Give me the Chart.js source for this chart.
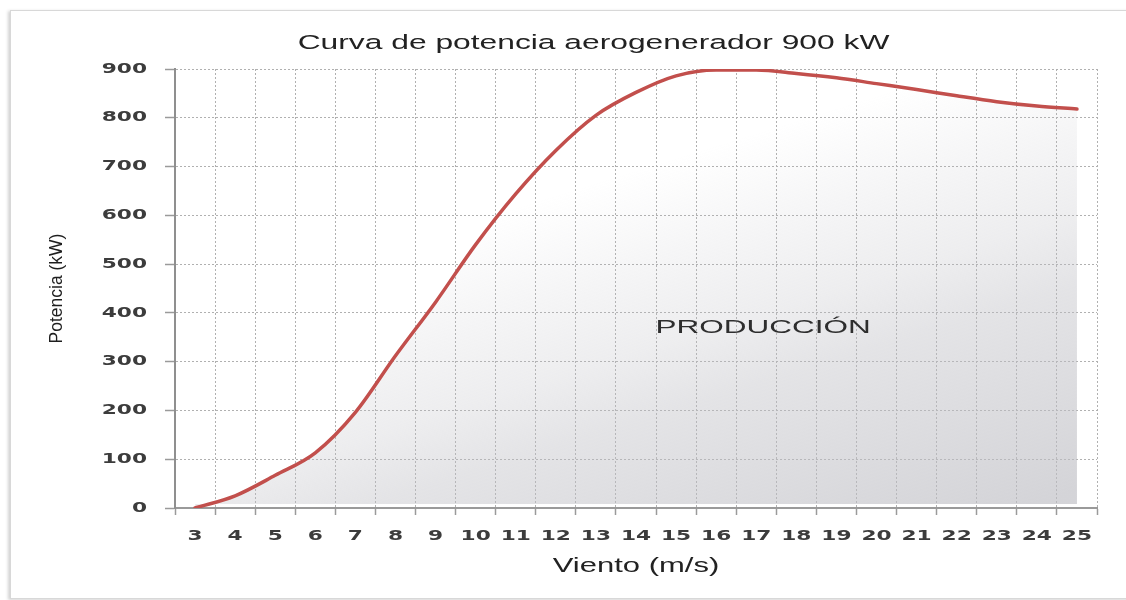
<!DOCTYPE html>
<html lang="es">
<head>
<meta charset="utf-8">
<title>Curva de potencia aerogenerador 900 kW</title>
<script src="https://cdn.jsdelivr.net/npm/chart.js@4.4.1/dist/chart.umd.min.js"></script>
<style>
  html, body { margin: 0; padding: 0; background: #ffffff; }
  #wrap { position: relative; width: 1126px; height: 600px; overflow: hidden; background: #ffffff; }
  #frame { position: absolute; left: 10px; top: 10px; width: 1140px; height: 587px;
           border: 1px solid #d8d8d8; box-shadow: -2px 1px 3px rgba(0,0,0,0.18); background: #ffffff; }
  #c { position: absolute; left: 0; top: 0; }
</style>
</head>
<body>
<div id="wrap">
  <div id="frame"></div>
  <canvas id="c" width="1126" height="600"></canvas>
</div>
<script>
// ---- data ----
const chartTitle = 'Curva de potencia aerogenerador 900 kW';
const xAxisTitle = 'Viento (m/s)';
const yAxisTitle = 'Potencia (kW)';
const areaLabel = 'PRODUCCIÓN';
const windSpeeds = ['3','4','5','6','7','8','9','10','11','12','13','14','15','16','17','18','19','20','21','22','23','24','25'];
const powerKW = [0, 25, 67, 113, 196, 312, 422, 540, 644, 733, 805, 852, 886, 898, 898, 891, 882, 870, 858, 845, 833, 824, 818];
const yTickValues = [0, 100, 200, 300, 400, 500, 600, 700, 800, 900];
const areaLabelAt = { index: 14.17, value: 369 };

// ---- text is drawn horizontally widened, as in the reference ----
const canvas = document.getElementById('c');
const ctx2d = canvas.getContext('2d');
const rawFillText = ctx2d.fillText.bind(ctx2d);
ctx2d.__sx = 1.55;
ctx2d.fillText = function (text, x, y, maxWidth) {
  const m = this.getTransform();
  if (Math.abs(m.b) < 1e-6 && Math.abs(m.c) < 1e-6) {
    this.save();
    this.translate(x, y);
    this.scale(this.__sx, 1);
    rawFillText(text, 0, 0);
    this.restore();
  } else {
    rawFillText(text, x, y);
  }
};

const overlay = {
  id: 'overlay',
  afterDatasetsDraw(chart) {
    const ctx = chart.ctx;
    const xs = chart.scales.x, ys = chart.scales.y;
    ctx.save();
    ctx.font = '17.5px "Liberation Sans", Arial, sans-serif';
    ctx.fillStyle = '#2e2e2e';
    ctx.textAlign = 'center';
    ctx.textBaseline = 'middle';
    const old = ctx.__sx; ctx.__sx = 1.8;
    ctx.fillText(areaLabel, xs.getPixelForValue(areaLabelAt.index), ys.getPixelForValue(areaLabelAt.value));
    ctx.__sx = old;
    ctx.restore();
  },
  afterDraw(chart) {
    const ctx = chart.ctx;
    ctx.save();
    ctx.font = '20.5px "Liberation Sans", Arial, sans-serif';
    ctx.fillStyle = '#222222';
    ctx.textAlign = 'center';
    ctx.textBaseline = 'middle';
    ctx.fillText(chartTitle, 593.5, 43);
    ctx.restore();
  }
};

function areaGradient(context) {
  const chart = context.chart;
  const a = chart.chartArea;
  if (!a) return 'rgba(0,0,0,0)';
  const w = a.right - a.left, h = a.bottom - a.top;
  const g = chart.ctx.createLinearGradient(a.left + 0.462 * w, a.top + 0.255 * h, a.left + 0.602 * w, a.top + 1.203 * h);
  g.addColorStop(0, 'rgba(190,190,196,0)');
  g.addColorStop(0.2, 'rgba(190,190,196,0.14)');
  g.addColorStop(0.4, 'rgba(190,190,196,0.27)');
  g.addColorStop(0.55, 'rgba(190,190,196,0.42)');
  g.addColorStop(1, 'rgba(190,190,196,0.66)');
  return g;
}

new Chart(ctx2d, {
  type: 'line',
  data: {
    labels: windSpeeds,
    datasets: [{
      label: 'Potencia',
      data: powerKW,
      borderColor: '#c24f4c',
      borderWidth: 3.5,
      backgroundColor: areaGradient,
      fill: { value: 8 },
      pointRadius: 0,
      pointHoverRadius: 0,
      cubicInterpolationMode: 'monotone',
      borderCapStyle: 'round',
      borderJoinStyle: 'round'
    }]
  },
  options: {
    responsive: false,
    animation: false,
    devicePixelRatio: 1,
    layout: { padding: { top: 69, right: 29, left: 0, bottom: 0 } },
    plugins: {
      legend: { display: false },
      tooltip: { enabled: false },
      title: { display: false }
    },
    scales: {
      x: {
        type: 'category',
        offset: true,
        afterFit(scale) { scale.height = 92; },
        grid: {
          offset: true,
          color: '#b0b0b0',
          lineWidth: 1,
          drawTicks: true,
          tickLength: 7,
          tickColor: '#9a9a9a',
          tickWidth: 1.5,
          tickBorderDash: []
        },
        border: { display: true, color: '#9a9a9a', width: 2, dash: [2, 2] },
        ticks: {
          autoSkip: false,
          maxRotation: 0,
          padding: 13,
          color: '#3c3c3c',
          font: { family: '"DejaVu Sans", Verdana, sans-serif', size: 14, weight: 'bold' }
        },
        title: {
          display: true,
          text: xAxisTitle,
          color: '#222222',
          font: { family: '"Liberation Sans", Arial, sans-serif', size: 20 },
          padding: { top: 0, bottom: 22 }
        }
      },
      y: {
        min: 0,
        max: 900,
        afterFit(scale) { scale.width = 175; },
        afterBuildTicks(scale) { scale.ticks = yTickValues.map(v => ({ value: v })); },
        grid: {
          color: '#b0b0b0',
          lineWidth: 1,
          drawTicks: true,
          tickLength: 10,
          tickColor: '#9a9a9a',
          tickWidth: 1.5,
          tickBorderDash: []
        },
        border: { display: true, color: '#8f8f8f', width: 2, dash: [2, 2] },
        ticks: {
          padding: 18,
          color: '#3c3c3c',
          font: { family: '"DejaVu Sans", Verdana, sans-serif', size: 14, weight: 'bold' }
        },
        title: {
          display: true,
          text: yAxisTitle,
          color: '#1e1e1e',
          font: { family: '"Liberation Sans", Arial, sans-serif', size: 17.5 },
          padding: { top: 46.5, bottom: 0 }
        }
      }
    }
  },
  plugins: [overlay]
});
</script>
</body>
</html>
